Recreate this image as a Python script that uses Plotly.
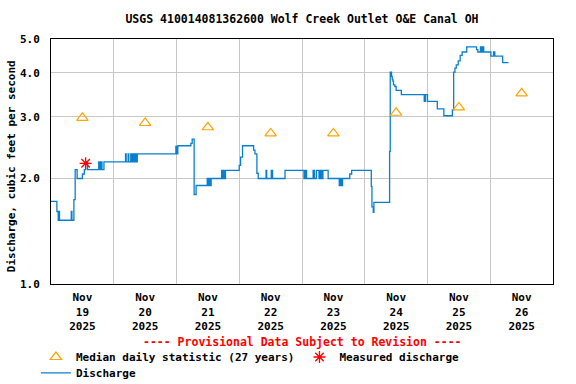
import plotly.graph_objects as go

# ---------------- data ----------------
flow_time = [
    "2025-11-19 00:00", "2025-11-19 02:15", "2025-11-19 02:45", "2025-11-19 03:00", "2025-11-19 03:15",
    "2025-11-19 07:45", "2025-11-19 08:00", "2025-11-19 08:45", "2025-11-19 09:15", "2025-11-19 10:00",
    "2025-11-19 12:00", "2025-11-19 12:45", "2025-11-19 13:15", "2025-11-19 14:00", "2025-11-19 18:15",
    "2025-11-19 18:30", "2025-11-19 19:00", "2025-11-19 19:30", "2025-11-19 20:15",
    "2025-11-20 04:30", "2025-11-20 04:45", "2025-11-20 05:30", "2025-11-20 05:45", "2025-11-20 06:30",
    "2025-11-20 07:00", "2025-11-20 07:15", "2025-11-20 07:45", "2025-11-20 08:00", "2025-11-20 08:30",
    "2025-11-20 09:00", "2025-11-20 23:45",
    "2025-11-21 00:00", "2025-11-21 00:30", "2025-11-21 05:30", "2025-11-21 06:00", "2025-11-21 06:45",
    "2025-11-21 07:30", "2025-11-21 11:45", "2025-11-21 12:15", "2025-11-21 12:30", "2025-11-21 12:45",
    "2025-11-21 13:15", "2025-11-21 17:15", "2025-11-21 17:45", "2025-11-21 18:00", "2025-11-21 18:15",
    "2025-11-21 18:45",
    "2025-11-22 00:00", "2025-11-22 00:30", "2025-11-22 01:15", "2025-11-22 05:30", "2025-11-22 06:00",
    "2025-11-22 06:45", "2025-11-22 07:15", "2025-11-22 10:15", "2025-11-22 10:30", "2025-11-22 12:15",
    "2025-11-22 12:45", "2025-11-22 17:30",
    "2025-11-23 00:45", "2025-11-23 01:15", "2025-11-23 01:45", "2025-11-23 04:15", "2025-11-23 04:45",
    "2025-11-23 05:30", "2025-11-23 06:30", "2025-11-23 07:00", "2025-11-23 07:30", "2025-11-23 08:00",
    "2025-11-23 10:00", "2025-11-23 14:15", "2025-11-23 14:30", "2025-11-23 15:00", "2025-11-23 15:30",
    "2025-11-23 18:15", "2025-11-23 19:00",
    "2025-11-24 02:30", "2025-11-24 02:45", "2025-11-24 03:15", "2025-11-24 03:30", "2025-11-24 09:30",
    "2025-11-24 09:45", "2025-11-24 10:15", "2025-11-24 10:30", "2025-11-24 10:45", "2025-11-24 11:00",
    "2025-11-24 11:30", "2025-11-24 12:00", "2025-11-24 14:00", "2025-11-24 22:45", "2025-11-24 23:15",
    "2025-11-25 00:00", "2025-11-25 03:45", "2025-11-25 06:15", "2025-11-25 09:30", "2025-11-25 10:00",
    "2025-11-25 10:30", "2025-11-25 11:00", "2025-11-25 11:45", "2025-11-25 12:30", "2025-11-25 13:15",
    "2025-11-25 15:00", "2025-11-25 18:45", "2025-11-25 19:15", "2025-11-25 20:15", "2025-11-25 20:45",
    "2025-11-25 21:15", "2025-11-25 21:30",
    "2025-11-26 00:15", "2025-11-26 01:15", "2025-11-26 01:45", "2025-11-26 04:45", "2025-11-26 07:00",
]
flow_cfs = [
    1.72, 1.61, 1.52, 1.61, 1.52,
    1.61, 1.52, 1.74, 2.12, 2.00,
    2.06, 2.12, 2.23, 2.12, 2.23,
    2.12, 2.23, 2.12, 2.23,
    2.35, 2.23, 2.35, 2.23, 2.35,
    2.23, 2.35, 2.23, 2.35, 2.23,
    2.35, 2.47,
    2.35, 2.48, 2.52, 2.59, 1.80,
    1.91, 2.00, 1.91, 2.00, 1.91,
    2.00, 2.11, 2.00, 2.11, 2.00,
    2.11,
    2.18, 2.30, 2.48, 2.41, 2.35,
    2.07, 2.00, 2.11, 2.00, 2.11,
    2.00, 2.11,
    2.00, 2.11, 2.00, 2.11, 2.00,
    2.11, 2.00, 2.11, 2.00, 2.11,
    2.00, 1.91, 2.00, 1.91, 2.00,
    2.06, 2.11,
    1.90, 1.66, 1.60, 1.71, 2.39,
    4.02, 3.91, 3.84, 3.79, 3.70,
    3.66, 3.57, 3.47, 3.32, 3.47,
    3.32, 3.16, 3.02, 3.14, 4.02,
    4.13, 4.22, 4.33, 4.49, 4.59,
    4.75, 4.66, 4.59, 4.75, 4.59,
    4.75, 4.59,
    4.47, 4.59, 4.47, 4.28, 4.28,
]

median_time = ["2025-11-19 12:00", "2025-11-20 12:00", "2025-11-21 12:00", "2025-11-22 12:00",
               "2025-11-23 12:00", "2025-11-24 12:00", "2025-11-25 12:00", "2025-11-26 12:00"]
median_cfs = [2.98, 2.88, 2.80, 2.69, 2.69, 3.08, 3.19, 3.50]

measured_time = ["2025-11-19 13:15"]
measured_cfs = [2.21]

x_tick_vals = median_time
x_tick_text = ["Nov<br>19<br>2025", "Nov<br>20<br>2025", "Nov<br>21<br>2025", "Nov<br>22<br>2025",
               "Nov<br>23<br>2025", "Nov<br>24<br>2025", "Nov<br>25<br>2025", "Nov<br>26<br>2025"]
y_tick_vals = [1, 2, 3, 4, 5]
y_tick_text = ["1.0", "2.0", "3.0", "4.0", "5.0"]

# ---------------- figure ----------------
FONT = "DejaVu Sans Mono"
base_font = dict(family=FONT, size=11, color="black", weight="bold")

fig = go.Figure()
fig.add_trace(go.Scatter(
    x=flow_time, y=flow_cfs, mode="lines", name="Discharge",
    line=dict(color="#0a7fd0", width=1.3, shape="hv"), legend="legend2"))
fig.add_trace(go.Scatter(
    x=median_time, y=median_cfs, mode="markers", name="Median daily statistic (27 years)",
    marker=dict(symbol="triangle-up-open", size=10, color="#FFA500", line=dict(width=1.2, color="#FFA500")),
    legend="legend"))
fig.add_trace(go.Scatter(
    x=measured_time, y=measured_cfs, mode="markers", name="Measured discharge",
    marker=dict(symbol="asterisk-open", size=10, color="red", line=dict(width=1.3, color="red")),
    legend="legend"))

fig.update_layout(
    width=576, height=384,
    margin=dict(l=51, r=23, t=39, b=100, autoexpand=False),
    paper_bgcolor="white", plot_bgcolor="white",
    font=base_font,
    title=dict(text="USGS 410014081362600 Wolf Creek Outlet O&E Canal OH",
               x=0.5, xref="paper", xanchor="center", y=1 - 19 / 384, yanchor="middle",
               font=dict(family=FONT, size=11.5, color="black", weight="bold")),
    showlegend=True,
    legend=dict(orientation="h", x=-0.03, xanchor="left", y=-0.298, yanchor="middle",
                font=base_font, bgcolor="rgba(0,0,0,0)", traceorder="normal"),
    legend2=dict(orientation="h", x=-0.03, xanchor="left", y=-0.363, yanchor="middle",
                 font=base_font, bgcolor="rgba(0,0,0,0)"),
    xaxis=dict(
        type="date", range=["2025-11-19 00:00", "2025-11-27 00:00"],
        tickmode="array", tickvals=x_tick_vals, ticktext=x_tick_text, tickangle=0,
        showgrid=False, ticks="", ticklabelstandoff=3,
        showline=True, linecolor="black", linewidth=1, mirror=True,
        minor=dict(tick0="2025-11-19", dtick=86400000, showgrid=True,
                   gridcolor="#c8c8c8", gridwidth=1, ticks=""),
        tickfont=base_font, zeroline=False),
    yaxis=dict(
        type="log", range=[0, 0.69897],
        tickmode="array", tickvals=y_tick_vals, ticktext=y_tick_text,
        showgrid=True, gridcolor="#c8c8c8", gridwidth=1, ticks="", ticklabelstandoff=8,
        showline=True, linecolor="black", linewidth=1, mirror=True,
        tickfont=base_font, zeroline=False),
    annotations=[
        dict(text="---- Provisional Data Subject to Revision ----",
             x=0.5, y=-0.238, xref="paper", yref="paper", showarrow=False,
             xanchor="center", yanchor="middle",
             font=dict(family=FONT, size=11.5, color="red", weight="bold")),
        dict(text="Discharge, cubic feet per second", textangle=-90,
             x=-0.078, y=0.48, xref="paper", yref="paper", showarrow=False,
             xanchor="center", yanchor="middle", font=base_font),
    ],
)

fig.write_html("out.html", config={"displayModeBar": False},
               post_script="document.body.style.margin='0';document.body.style.padding='0';")
